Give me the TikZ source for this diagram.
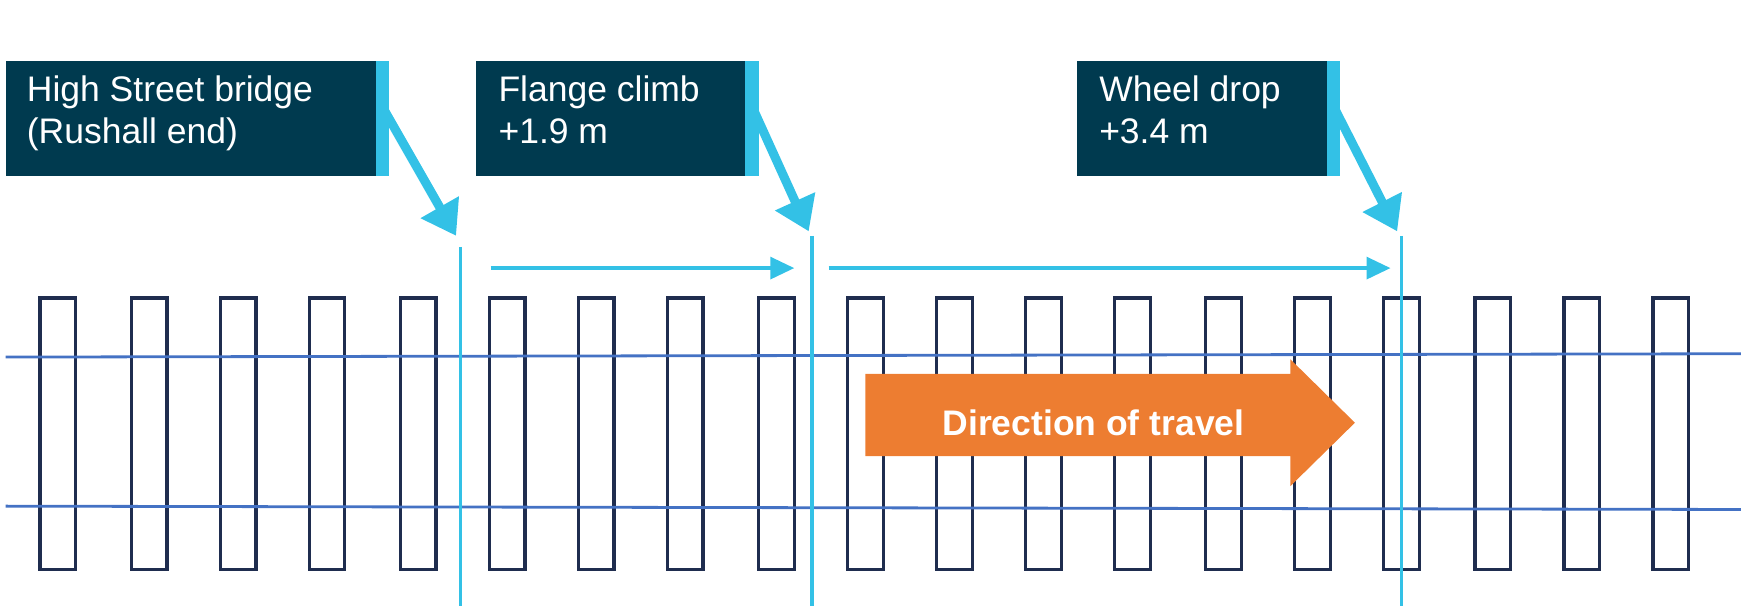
\documentclass[tikz,border=0pt]{standalone}
\usepackage{fontspec}
\setmainfont{Liberation Sans}
\usetikzlibrary{arrows.meta}
\definecolor{navy}{HTML}{1F2D4F}
\definecolor{rail}{HTML}{4472C4}
\definecolor{cy}{HTML}{33C1E6}
\definecolor{teal}{HTML}{003A4F}
\definecolor{orng}{HTML}{ED7D31}
\begin{document}
\begin{tikzpicture}[x=1.1124pt,y=-1.1124pt,
  sleeper/.style={draw=navy,line width=3.3pt},
  railline/.style={draw=rail,line width=2.8pt},
  vmark/.style={draw=cy,line width=3.3pt},
  span/.style={draw=cy,line width=3.3pt,-{Triangle[length=24pt,width=22pt]}},
  call/.style={draw=cy,line width=9pt,-{Triangle[length=33pt,width=42pt]}},
  box/.style={text=white,font=\fontsize{35.5}{42}\selectfont,align=left,anchor=north west,inner sep=0pt}]
\useasboundingbox (0,0) rectangle (1566,548.4);
\foreach \x [count=\i] in {36,118,198,278,360,440,520,600,682,762,842,922,1002,1084,1164,1244,1326,1406,1486}
  \draw[sleeper] (\x,268) rectangle ++(32,244);
\coordinate (r1a) at (5,321); \coordinate (r1b) at (1565,318);
\coordinate (r2a) at (5,455); \coordinate (r2b) at (1565,458);
\draw[railline] (r1a) -- (r1b);
\draw[railline] (r2a) -- (r2b);
% markers
\coordinate (m1t) at (414,222); \coordinate (m1b) at (414,545);
\coordinate (m2t) at (730,212); \coordinate (m2b) at (730,545);
\coordinate (m3t) at (1260,212); \coordinate (m3b) at (1260,545);
\draw[vmark] (m1t) -- (m1b);
\draw[vmark] (m2t) -- (m2b);
\draw[vmark] (m3t) -- (m3b);
\coordinate (s1a) at (441,241); \coordinate (s1b) at (714,241);
\coordinate (s2a) at (745,241); \coordinate (s2b) at (1250,241);
\draw[span] (s1a) -- (s1b);
\draw[span] (s2a) -- (s2b);
% boxes
\fill[teal] (5,55) rectangle (338,158); \fill[cy] (338,55) rectangle (350,158);
\fill[teal] (428,55) rectangle (670,158); \fill[cy] (670,55) rectangle (682,158);
\fill[teal] (968,55) rectangle (1193,158); \fill[cy] (1193,55) rectangle (1205,158);
\node[box] (b1) at (24,68) {High Street bridge\\(Rushall end)};
\node[box] (b2) at (448,68) {Flange climb\\+1.9 m};
\node[box] (b3) at (988,68) {Wheel drop\\+3.4 m};
\coordinate (c1) at (346,100); \coordinate (c1e) at (410,212);
\coordinate (c2) at (678,100); \coordinate (c2e) at (727,208);
\coordinate (c3) at (1201,100); \coordinate (c3e) at (1256,208);
\draw[call] (c1) -- (c1e);
\draw[call] (c2) -- (c2e);
\draw[call] (c3) -- (c3e);
% direction arrow
\fill[orng] (778,336) -- (1160,336) -- (1160,323) -- (1218,380) -- (1160,437) -- (1160,410) -- (778,410) -- cycle;
\node[text=white,font=\bfseries\fontsize{35.5}{42}\selectfont] (dir) at (983,380) {Direction of travel};
\end{tikzpicture}
\end{document}
